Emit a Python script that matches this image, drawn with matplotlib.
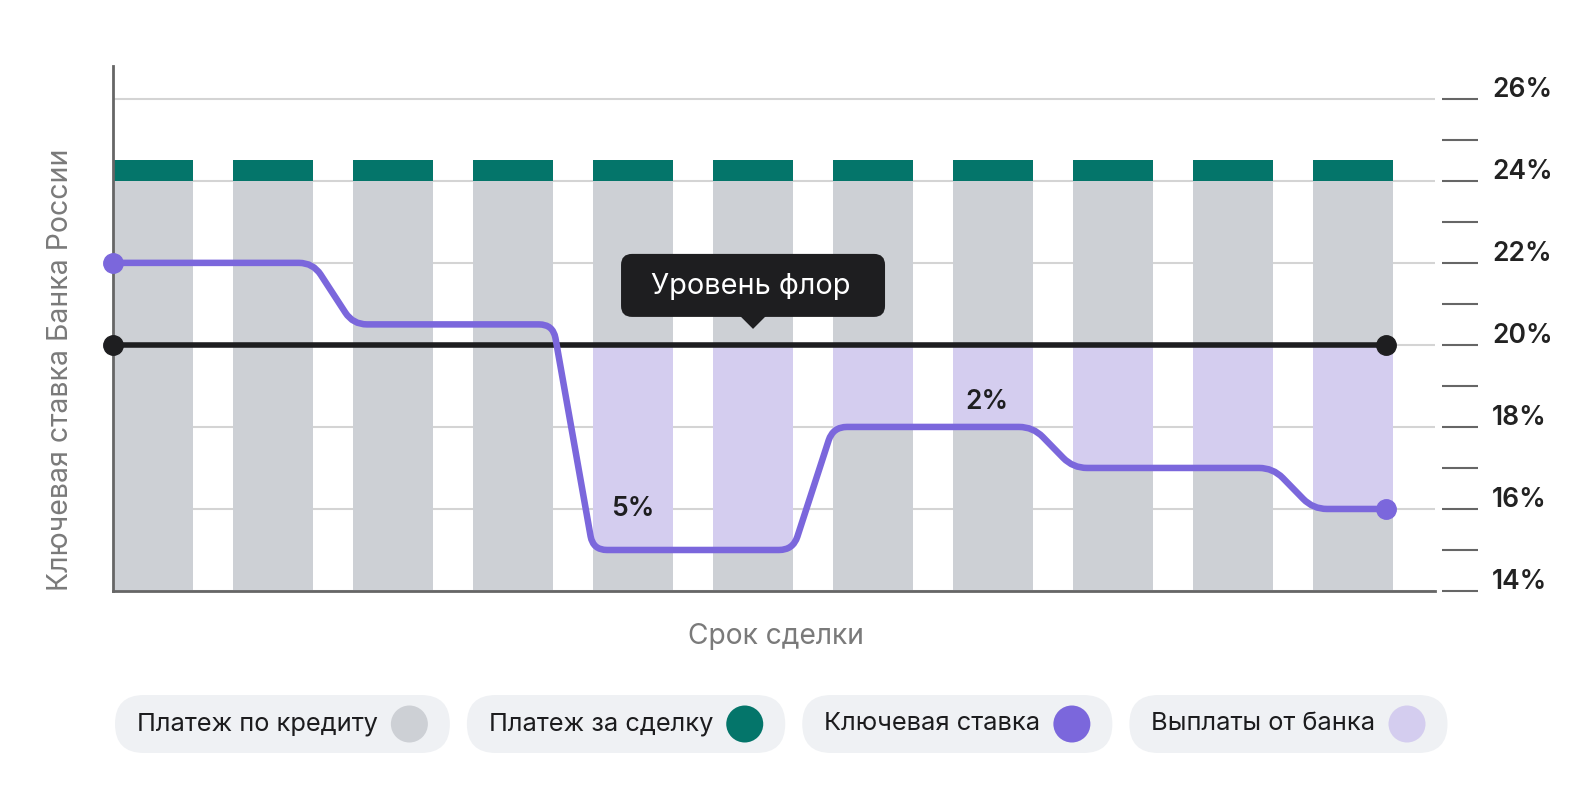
import numpy as np
import matplotlib
matplotlib.use("Agg")
import matplotlib.pyplot as plt
from matplotlib.patches import FancyBboxPatch, Polygon, PathPatch, Circle
from matplotlib.path import Path
from matplotlib.transforms import IdentityTransform, ScaledTranslation

plt.rcParams['font.family'] = ['Inter', 'DejaVu Sans']

# данные графика
periods = np.arange(11)
credit_level = [24] * 11           # платеж по кредиту (уровень, %)
deal_payment = [0.5] * 11          # платеж за сделку (над кредитом)
key_rate = [22, 22, 20.5, 20.5, 15, 15, 18, 18, 17, 17, 16]
floor_level = 20
rate_ticks = [14, 16, 18, 20, 22, 24, 26]
rate_tick_labels = ['14%', '16%', '18%', '20%', '22%', '24%', '26%']
minor_ticks = [15, 17, 19, 21, 23, 25]
note_bars = [4, 7]                 # подписи разницы с флором
note_x = [4.0, 6.95]
note_y = [16.0, 18.6]

legend_labels = ['Платеж по кредиту', 'Платеж за сделку', 'Ключевая ставка', 'Выплаты от банка']

c_gray = '#cdd0d5'
c_teal = '#04756a'
c_purple = '#7b67dc'
c_lav = '#d4cdef'
c_black = '#1e1e20'
legend_colors = [c_gray, c_teal, c_purple, c_lav]

W, H = 1592, 800
fig = plt.figure(figsize=(W / 100, H / 100), dpi=100)
ax = fig.add_axes([112.7 / W, 1 - 591 / H, (1435 - 112.7) / W, (591 - 66) / H])

bw = 80 / 120
ax.set_xlim(-0.336, 10.683)
ax.set_ylim(14, 26.8)

# сетка
ax.set_yticks(rate_ticks)
ax.set_yticks(minor_ticks, minor=True)
ax.yaxis.grid(True, which='major', color='#d4d4d4', lw=1.5, zorder=0)
ax.set_axisbelow(True)
ax.set_xticks([])

# столбцы
ymin = ax.get_ylim()[0]
ax.bar(periods, np.array(credit_level) - ymin, bottom=ymin, width=bw, color=c_gray, zorder=2)
ax.bar(periods, deal_payment, bottom=credit_level, width=bw, color=c_teal, zorder=2)
payout = np.clip(floor_level - np.array(key_rate), 0, None)
ax.bar(periods, payout, bottom=key_rate, width=bw, color=c_lav, zorder=3)

# линия флора
x_start, x_end = -0.336, 10.275
ax.plot([x_start, x_end], [floor_level, floor_level], color=c_black, lw=4,
        marker='o', ms=14, clip_on=False, zorder=5, solid_capstyle='butt')

# ключевая ставка: ступеньки со скругленными углами
xs, ys = [], []
for i, r in enumerate(key_rate):
    xs += [i - bw / 2, i + bw / 2]
    ys += [r, r]
xs[0] = x_start
xs[-1] = x_end
pts = ax.transData.transform(np.column_stack([xs, ys]))
verts = [pts[0]]
codes = [Path.MOVETO]
for k in range(1, len(pts) - 1):
    p0, p1, p2 = pts[k - 1], pts[k], pts[k + 1]
    v1, v2 = p0 - p1, p2 - p1
    l1, l2 = np.hypot(*v1), np.hypot(*v2)
    rad = min(14, l1 / 2, l2 / 2)
    verts += [p1 + v1 / l1 * rad, p1, p1 + v2 / l2 * rad]
    codes += [Path.LINETO, Path.CURVE3, Path.CURVE3]
verts.append(pts[-1])
codes.append(Path.LINETO)
path = Path(ax.transData.inverted().transform(verts), codes)
ax.add_patch(PathPatch(path, fill=False, ec=c_purple, lw=4.7, zorder=6,
                       capstyle='round', joinstyle='round', clip_on=False))
ax.plot([xs[0], xs[-1]], [ys[0], ys[-1]], ls='none', marker='o', ms=14,
        color=c_purple, clip_on=False, zorder=7)

# подписи 5% и 2%
for b, xx, yy in zip(note_bars, note_x, note_y):
    ax.text(xx, yy, f"{floor_level - key_rate[b]:g}%", ha='center', va='center',
            fontsize=19, fontweight='semibold', color='#1e1e20', zorder=8)

# подсказка "Уровень флор"
ax_px, ay_px = ax.transData.transform((5, floor_level))
idt = IdentityTransform()
ax.add_patch(FancyBboxPatch((ax_px - 132, ay_px + 28), 264, 63,
                            boxstyle='round,pad=0,rounding_size=11',
                            transform=idt, fc=c_black, ec='none', zorder=9))
ax.add_patch(Polygon([[ax_px - 13, ay_px + 29], [ax_px + 13, ay_px + 29], [ax_px, ay_px + 16]],
                     closed=True, transform=idt, fc=c_black, ec='none', zorder=9))
ax.text(ax_px - 2, ay_px + 58, 'Уровень флор', transform=idt, ha='center', va='center',
        fontsize=20.8, color='white', zorder=10)

# оси
for s in ['top', 'right']:
    ax.spines[s].set_visible(False)
for s in ['left', 'bottom']:
    ax.spines[s].set_color('#666666')
    ax.spines[s].set_linewidth(2)
ax.yaxis.tick_right()
ax.spines['right'].set_position(('outward', 5))
ax.tick_params(axis='y', which='both', direction='out', length=26, width=1.5,
               color='#666666', left=False)
ax.tick_params(axis='y', which='major', pad=10, labelsize=19, labelcolor='#222222')
ax.set_yticklabels(rate_tick_labels, fontweight='semibold')
shift = ScaledTranslation(0, 8.8 / 72, fig.dpi_scale_trans)
for lab in ax.get_yticklabels():
    lab.set_transform(lab.get_transform() + shift)

fig.text(61 / W, 1 - 591 / H, 'Ключевая ставка Банка России', rotation=90,
         ha='center', va='bottom', fontsize=20.5, color='#7a7a7a')
fig.text(776 / W, 1 - 636 / H, 'Срок сделки', ha='center', va='center',
         fontsize=20.3, color='#7a7a7a')

# легенда в виде "таблеток"
renderer = fig.canvas.get_renderer()
px = 115
py, ph = H - 753, 58
for lab, col in zip(legend_labels, legend_colors):
    t = fig.text(px + 22, py + ph / 2, lab, transform=idt, ha='left', va='center',
                 fontsize=18.3, color='#1c1c1e', zorder=3)
    tw = t.get_window_extent(renderer).width
    pw = 22 + tw + 13 + 37 + 22
    fig.add_artist(FancyBboxPatch((px, py), pw, ph, boxstyle=f'round,pad=0,rounding_size={ph / 2}',
                                  transform=idt, fc='#eff1f4', ec='none', zorder=1))
    fig.add_artist(Circle((px + pw - 22 - 18.5, py + ph / 2), 18.5, transform=idt,
                          fc=col, ec='none', zorder=2))
    px += pw + 17

fig.savefig('out.png', dpi=100)
